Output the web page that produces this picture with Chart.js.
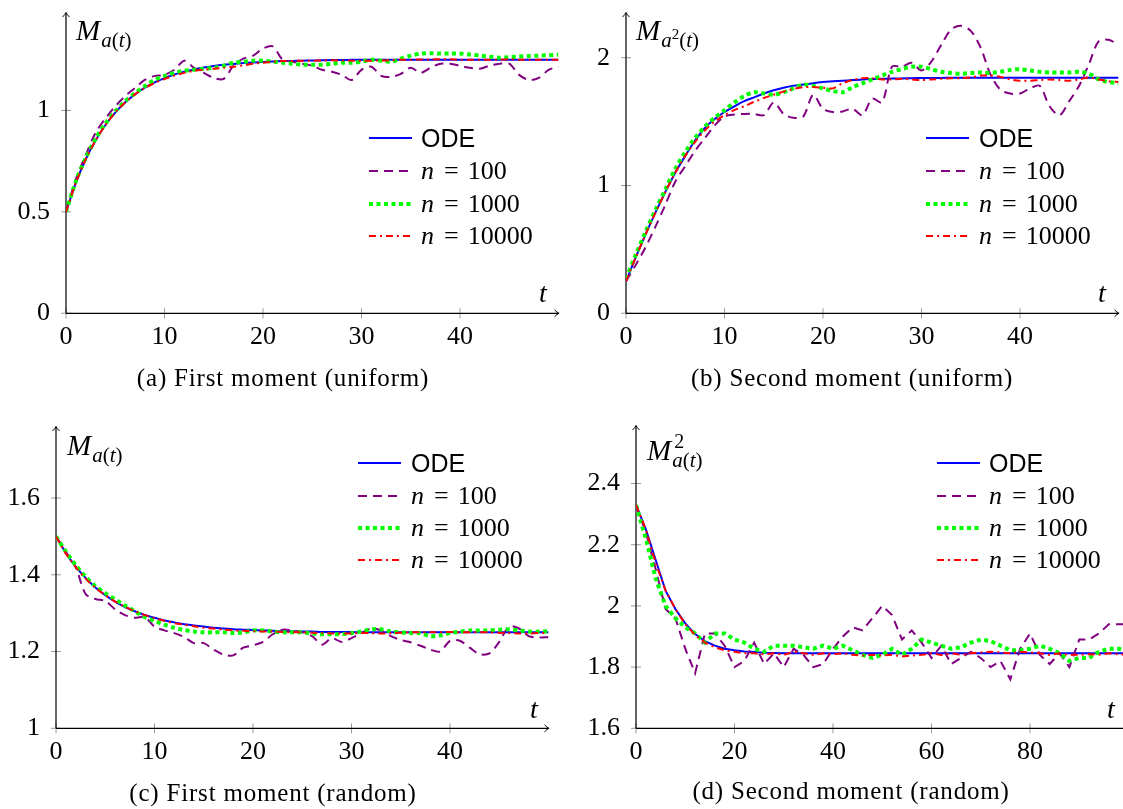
<!DOCTYPE html>
<html>
<head>
<meta charset="utf-8">
<title>Moments: ODE vs simulation</title>
<script src="https://cdn.jsdelivr.net/npm/chart.js@4.4.1/dist/chart.umd.min.js"></script>
<style>
  html, body { margin:0; padding:0; background:#fff; }
  body { position:relative; width:1123px; height:809px; overflow:hidden; }
  canvas { position:absolute; left:0; top:0; }
  .t { position:absolute; white-space:nowrap; color:#000; font-family:"Liberation Serif","DejaVu Serif",serif; }
  .t i { font-style:italic; }
  .sans { font-family:"Liberation Sans","DejaVu Sans",sans-serif; }
  .sb { font-size:21px; line-height:1; position:relative; top:7.5px; margin-left:1px; }
  .sp { font-size:15px; line-height:1; position:relative; top:-8px; }
  .eq { margin:0 9px 0 10px; }
  .cap { letter-spacing:0.8px; }
  svg.leg { position:absolute; overflow:visible; }
</style>
</head>
<body>
<canvas id="cA"></canvas>
<canvas id="cB"></canvas>
<canvas id="cC"></canvas>
<canvas id="cD"></canvas>
<script>
// ---------------- data ----------------
const seriesLabels = ['ODE', 'n = 100', 'n = 1000', 'n = 10000'];

const tA = [0,1,2,3,4,5,6,7,8,9,10,11,12,13,14,15,16,17,18,19,20,21,22,23,24,25,26,27,28,29,30,31,32,33,34,35,36,37,38,39,40,41,42,43,44,45,46,47,48,49,50];
const tD = [0,2,4,6,8,10,12,14,16,18,20,22,24,26,28,30,32,34,36,38,40,42,44,46,48,50,52,54,56,58,60,62,64,66,68,70,72,74,76,78,80,82,84,86,88,90,92,94,96,98,100];

// (a) first moment, uniform
const aODE = [0.5,0.643,0.759,0.852,0.928,0.989,1.039,1.079,1.112,1.138,1.159,
  1.177,1.191,1.202,1.211,1.219,1.225,1.229,1.233,1.236,1.239,
  1.241,1.243,1.244,1.245,1.246,1.247,1.248,1.248,1.249,1.249,
  1.25,1.25,1.25,1.25,1.25,1.25,1.25,1.25,1.25,1.25,
  1.25,1.25,1.25,1.25,1.25,1.25,1.25,1.25,1.25,1.25];
const aN100 = [0.5,0.66,0.78,0.89,0.96,1.02,1.07,1.11,1.15,1.17,1.175,
  1.2,1.245,1.21,1.185,1.16,1.155,1.22,1.255,1.27,1.305,
  1.315,1.25,1.24,1.23,1.22,1.2,1.19,1.175,1.15,1.2,
  1.215,1.17,1.165,1.18,1.21,1.185,1.21,1.23,1.23,1.22,
  1.21,1.205,1.22,1.23,1.23,1.175,1.15,1.16,1.2,1.215];
const aN1000 = [0.5,0.65,0.765,0.86,0.935,0.995,1.045,1.085,1.12,1.15,1.17,
  1.185,1.195,1.2,1.205,1.21,1.22,1.235,1.24,1.245,1.245,
  1.24,1.235,1.23,1.225,1.225,1.225,1.23,1.235,1.235,1.24,
  1.25,1.245,1.24,1.255,1.27,1.28,1.282,1.28,1.28,1.28,
  1.275,1.27,1.265,1.26,1.262,1.265,1.268,1.27,1.272,1.275];
const aN10000 = [0.5,0.643,0.759,0.852,0.928,0.989,1.039,1.079,1.11,1.135,1.155,
  1.172,1.185,1.195,1.2,1.205,1.21,1.215,1.222,1.23,1.235,
  1.24,1.243,1.244,1.245,1.245,1.246,1.247,1.246,1.245,1.245,
  1.245,1.246,1.247,1.25,1.25,1.251,1.251,1.252,1.252,1.25,
  1.25,1.249,1.25,1.25,1.252,1.25,1.25,1.25,1.25,1.25];

// (b) second moment, uniform
const bODE = [0.25,0.44,0.62,0.79,0.95,1.1,1.23,1.35,1.45,1.52,1.575,
  1.62,1.66,1.69,1.72,1.745,1.765,1.78,1.79,1.8,1.81,
  1.815,1.82,1.825,1.83,1.833,1.835,1.837,1.838,1.84,1.841,
  1.842,1.842,1.843,1.843,1.843,1.844,1.844,1.844,1.844,1.844,
  1.844,1.844,1.844,1.844,1.844,1.844,1.844,1.844,1.844,1.844];
const bN100 = [0.25,0.38,0.52,0.68,0.85,1.03,1.15,1.27,1.37,1.47,1.54,
  1.555,1.56,1.56,1.55,1.65,1.56,1.53,1.54,1.71,1.6,
  1.575,1.58,1.6,1.55,1.68,1.65,1.93,1.93,1.96,1.9,
  1.97,2.1,2.22,2.25,2.21,2.08,1.87,1.75,1.72,1.72,
  1.76,1.78,1.62,1.55,1.66,1.78,1.95,2.13,2.14,2.1];
const bN1000 = [0.27,0.46,0.64,0.81,0.97,1.13,1.26,1.37,1.46,1.53,1.59,
  1.65,1.7,1.73,1.72,1.71,1.73,1.76,1.79,1.78,1.76,
  1.74,1.73,1.77,1.8,1.83,1.86,1.89,1.91,1.93,1.93,
  1.91,1.89,1.88,1.875,1.88,1.885,1.88,1.89,1.905,1.91,
  1.9,1.89,1.885,1.885,1.885,1.89,1.875,1.83,1.81,1.8];
const bN10000 = [0.25,0.44,0.62,0.79,0.95,1.1,1.23,1.34,1.43,1.5,1.55,
  1.59,1.62,1.655,1.685,1.71,1.735,1.755,1.77,1.77,1.765,
  1.76,1.8,1.825,1.84,1.84,1.83,1.83,1.835,1.83,1.825,
  1.83,1.835,1.84,1.84,1.845,1.86,1.86,1.85,1.83,1.82,
  1.82,1.825,1.83,1.825,1.82,1.83,1.845,1.83,1.815,1.81];

// (c) first moment, random
const cODE = [1.5,1.457,1.421,1.392,1.367,1.347,1.33,1.316,1.305,1.295,1.288,
  1.281,1.276,1.271,1.268,1.265,1.262,1.26,1.258,1.257,1.256,
  1.255,1.254,1.253,1.253,1.252,1.252,1.251,1.251,1.251,1.251,
  1.25,1.25,1.25,1.25,1.25,1.25,1.25,1.25,1.25,1.25,
  1.25,1.25,1.25,1.25,1.25,1.25,1.25,1.25,1.25,1.25];
const cN100 = [1.5,1.46,1.42,1.35,1.337,1.332,1.31,1.295,1.288,1.29,1.265,
  1.255,1.248,1.238,1.222,1.222,1.205,1.192,1.19,1.21,1.216,
  1.225,1.245,1.257,1.255,1.25,1.24,1.218,1.235,1.225,1.235,
  1.248,1.26,1.255,1.24,1.23,1.224,1.215,1.205,1.2,1.228,
  1.228,1.21,1.193,1.195,1.225,1.265,1.26,1.24,1.237,1.237];
const cN1000 = [1.5,1.46,1.425,1.395,1.37,1.352,1.336,1.32,1.305,1.29,1.28,
  1.27,1.262,1.256,1.252,1.25,1.25,1.25,1.248,1.25,1.255,
  1.255,1.252,1.25,1.25,1.25,1.247,1.245,1.245,1.245,1.248,
  1.252,1.258,1.258,1.252,1.25,1.248,1.248,1.24,1.242,1.248,
  1.252,1.255,1.255,1.255,1.257,1.258,1.255,1.252,1.252,1.253];
const cN10000 = [1.5,1.455,1.42,1.39,1.366,1.347,1.33,1.317,1.305,1.295,1.287,
  1.28,1.274,1.27,1.266,1.262,1.26,1.257,1.255,1.254,1.253,
  1.252,1.252,1.251,1.25,1.25,1.249,1.248,1.247,1.247,1.247,
  1.248,1.248,1.247,1.248,1.249,1.25,1.25,1.25,1.25,1.251,
  1.25,1.25,1.25,1.25,1.249,1.248,1.247,1.247,1.248,1.248];

// (d) second moment, random (t step 2)
const dODE = [2.33,2.25,2.15,2.05,1.99,1.943,1.908,1.885,1.87,1.86,1.855,
  1.851,1.849,1.847,1.846,1.845,1.845,1.845,1.845,1.845,1.845,
  1.845,1.845,1.845,1.845,1.845,1.845,1.845,1.845,1.845,1.845,
  1.845,1.845,1.845,1.845,1.845,1.845,1.845,1.845,1.845,1.845,
  1.845,1.845,1.845,1.845,1.845,1.845,1.845,1.845,1.845,1.845];
const dN100 = [2.33,2.24,2.12,1.99,1.96,1.86,1.78,1.91,1.91,1.87,1.8,
  1.82,1.88,1.81,1.845,1.8,1.86,1.84,1.8,1.81,1.86,
  1.9,1.93,1.92,1.96,2.0,1.97,1.89,1.92,1.88,1.83,
  1.87,1.81,1.83,1.85,1.83,1.8,1.82,1.76,1.86,1.91,
  1.84,1.81,1.845,1.8,1.89,1.89,1.91,1.94,1.94,1.94];
const dN1000 = [2.33,2.22,2.09,2.0,1.96,1.93,1.91,1.88,1.91,1.91,1.89,
  1.88,1.86,1.85,1.87,1.87,1.87,1.865,1.86,1.87,1.86,
  1.87,1.855,1.84,1.83,1.84,1.86,1.84,1.86,1.89,1.88,
  1.87,1.86,1.865,1.88,1.89,1.885,1.87,1.855,1.855,1.86,
  1.87,1.86,1.845,1.82,1.83,1.83,1.85,1.86,1.86,1.85];
const dN10000 = [2.33,2.25,2.14,2.05,1.99,1.94,1.905,1.88,1.865,1.855,1.85,
  1.845,1.845,1.842,1.845,1.84,1.85,1.845,1.84,1.845,1.842,
  1.845,1.84,1.838,1.84,1.838,1.84,1.835,1.838,1.84,1.845,
  1.84,1.845,1.84,1.845,1.848,1.85,1.848,1.845,1.85,1.848,
  1.845,1.84,1.845,1.84,1.84,1.842,1.84,1.845,1.842,1.84];

// tick values
const ticksAx = [0,10,20,30,40];
const ticksAy = [0,0.5,1];
const ticksBx = [0,10,20,30,40];
const ticksBy = [0,1,2];
const ticksCx = [0,10,20,30,40];
const ticksCy = [1,1.2,1.4,1.6];
const ticksDx = [0,20,40,60,80];
const ticksDy = [1.6,1.8,2,2.2,2.4];

// ---------------- styles / layout ----------------
const STY = [
  { color:'#0000ff', width:2, dash:[] },
  { color:'#800080', width:2, dash:[9,6] },
  { color:'#00ff00', width:4, dash:[4,3.5] },
  { color:'#ff0000', width:2, dash:[7,4,2,4] }
];
const CW = 1140, CH = 809, YW = 60, XH = 50;
const SERIF = '"Liberation Serif", "DejaVu Serif", serif';

const PANELS = [
  { id:'cA', t:tA, ys:[aODE,aN100,aN1000,aN10000], xr:[0,50],  yr:[0,1.48],    xt:ticksAx, yt:ticksAy, box:[66,558.5,13,313.3], tension:0.3 },
  { id:'cB', t:tA, ys:[bODE,bN100,bN1000,bN10000], xr:[0,50],  yr:[0,2.35],    xt:ticksBx, yt:ticksBy, box:[626,1118.5,13,313.3], tension:0.3 },
  { id:'cC', t:tA, ys:[cODE,cN100,cN1000,cN10000], xr:[0,50],  yr:[1,1.785],   xt:ticksCx, yt:ticksCy, box:[56,548.5,427,728.3], tension:0.3 },
  { id:'cD', t:tD, ys:[dODE,dN100,dN1000,dN10000], xr:[0,100], yr:[1.6,2.588], xt:ticksDx, yt:ticksDy, box:[636,1128.5,426,728.3], tension:0 }
];

const axesPlugin = {
  id:'pgfAxes',
  beforeDatasetsDraw(chart) {
    const { ctx, chartArea:a, scales:{ x, y } } = chart;
    ctx.save();
    ctx.strokeStyle = '#9a9a9a';
    ctx.lineWidth = 1;
    ctx.beginPath();
    x.ticks.forEach(tk => {
      const px = x.getPixelForValue(tk.value);
      ctx.moveTo(px, a.bottom - 5); ctx.lineTo(px, a.bottom + 5);
    });
    y.ticks.forEach(tk => {
      const py = y.getPixelForValue(tk.value);
      ctx.moveTo(a.left - 5, py); ctx.lineTo(a.left + 5, py);
    });
    ctx.stroke();
    ctx.strokeStyle = '#000';
    ctx.lineWidth = 1.2;
    ctx.beginPath();
    ctx.moveTo(a.left, a.bottom); ctx.lineTo(a.right, a.bottom);
    ctx.moveTo(a.left, a.bottom); ctx.lineTo(a.left, a.top);
    ctx.stroke();
    ctx.lineWidth = 1;
    ctx.beginPath();
    ctx.moveTo(a.right - 4, a.bottom - 3.5);
    ctx.quadraticCurveTo(a.right - 1.5, a.bottom - 0.8, a.right + 0.6, a.bottom);
    ctx.quadraticCurveTo(a.right - 1.5, a.bottom + 0.8, a.right - 4, a.bottom + 3.5);
    ctx.moveTo(a.left - 3.5, a.top + 4);
    ctx.quadraticCurveTo(a.left - 0.8, a.top + 1.5, a.left, a.top - 0.6);
    ctx.quadraticCurveTo(a.left + 0.8, a.top + 1.5, a.left + 3.5, a.top + 4);
    ctx.stroke();
    ctx.restore();
  }
};

function build(p) {
  const cv = document.getElementById(p.id);
  cv.width = CW; cv.height = CH;
  cv.style.width = CW + 'px'; cv.style.height = CH + 'px';
  const [L, R, T, B] = p.box;
  const tickFont = { family: SERIF, size: 26 };
  return new Chart(cv, {
    type: 'line',
    data: {
      datasets: p.ys.map((vals, i) => ({
        label: seriesLabels[i],
        data: p.t.map((t, j) => ({ x: t, y: vals[j] })),
        borderColor: STY[i].color,
        backgroundColor: STY[i].color,
        borderWidth: STY[i].width,
        borderDash: STY[i].dash,
        pointRadius: 0,
        pointHoverRadius: 0,
        fill: false,
        tension: p.tension,
        order: 3 - i
      }))
    },
    options: {
      responsive: false,
      animation: false,
      events: [],
      layout: { padding: { left: L - YW, right: CW - R, top: T, bottom: CH - B - XH } },
      plugins: { legend: { display: false }, tooltip: { enabled: false }, title: { display: false } },
      scales: {
        x: {
          type: 'linear', position: 'bottom', min: p.xr[0], max: p.xr[1],
          afterBuildTicks: s => { s.ticks = p.xt.map(v => ({ value: v })); },
          afterFit: s => { s.height = XH; s.paddingLeft = 0; s.paddingRight = 0; s.paddingTop = 0; s.paddingBottom = 0; },
          grid: { display: false, drawTicks: false },
          border: { display: false },
          ticks: { color: '#000', font: tickFont, padding: 8, maxRotation: 0, autoSkip: false, callback: v => String(v) }
        },
        y: {
          type: 'linear', position: 'left', min: p.yr[0], max: p.yr[1],
          afterBuildTicks: s => { s.ticks = p.yt.map(v => ({ value: v })); },
          afterFit: s => { s.width = YW; s.paddingLeft = 0; s.paddingRight = 0; s.paddingTop = 0; s.paddingBottom = 0; },
          grid: { display: false, drawTicks: false },
          border: { display: false },
          ticks: { color: '#000', font: tickFont, padding: 16, autoSkip: false, callback: v => String(v) }
        }
      }
    },
    plugins: [axesPlugin]
  });
}

// ---------------- text helpers ----------------
function put(html, x, baseline, size, opts) {
  opts = opts || {};
  const d = document.createElement('div');
  d.className = 't' + (opts.sans ? ' sans' : '') + (opts.cls ? ' ' + opts.cls : '');
  d.style.fontSize = size + 'px';
  d.style.lineHeight = size + 'px';
  d.innerHTML = html;
  const k = opts.sans ? 0.8465 : 0.837;
  d.style.top = (baseline - k * size) + 'px';
  if (opts.center) {
    d.style.left = (x - 300) + 'px'; d.style.width = '600px'; d.style.textAlign = 'center';
  } else {
    d.style.left = x + 'px';
  }
  document.body.appendChild(d);
  return d;
}

const NS = 'http://www.w3.org/2000/svg';
function legend(chart, lineX, rows, textX) {
  chart.data.datasets.forEach((ds, i) => {
    const svg = document.createElementNS(NS, 'svg');
    svg.setAttribute('class', 'leg');
    svg.setAttribute('width', '44'); svg.setAttribute('height', '10');
    svg.style.left = lineX + 'px'; svg.style.top = (rows[i] - 5) + 'px';
    const ln = document.createElementNS(NS, 'line');
    ln.setAttribute('x1', '0'); ln.setAttribute('y1', '5');
    ln.setAttribute('x2', '43'); ln.setAttribute('y2', '5');
    ln.setAttribute('stroke', ds.borderColor);
    ln.setAttribute('stroke-width', ds.borderWidth);
    if (ds.borderDash.length) ln.setAttribute('stroke-dasharray', ds.borderDash.join(' '));
    svg.appendChild(ln);
    document.body.appendChild(svg);
    const lab = ds.label;
    if (lab === 'ODE') {
      put(lab, textX, rows[i] + 9, 25, { sans: true });
    } else {
      const parts = lab.split(' = ');
      put('<i>' + parts[0] + '</i><span class="eq">=</span>' + parts[1], textX, rows[i] + 9, 26);
    }
  });
}

// ---------------- render ----------------
const charts = PANELS.map(build);

legend(charts[0], 369, [138,171,204,236], 421);
legend(charts[1], 926, [138,171,204,236], 979);
legend(charts[2], 358, [463,496,528,560], 411);
legend(charts[3], 937, [463,496,528,560], 989);

// axis labels
put('<i>M</i><span class="sb"><i>a</i>(<i>t</i>)</span>', 76, 40, 29);
put('<i>M</i><span class="sb"><i>a</i><span class="sp">2</span>(<i>t</i>)</span>', 636, 40, 29);
put('<i>M</i><span class="sb"><i>a</i>(<i>t</i>)</span>', 67, 455, 29);
put('<i>M</i><span style="position:relative;display:inline-block;width:40px;height:1px;">' +
    '<span style="position:absolute;left:3px;top:-28px;font-size:20px;line-height:20px;">2</span>' +
    '<span style="position:absolute;left:1px;top:-9px;font-size:21px;line-height:21px;"><i>a</i>(<i>t</i>)</span></span>', 647, 460.5, 29);

put('<i>t</i>', 539, 302, 28);
put('<i>t</i>', 1098, 302, 28);
put('<i>t</i>', 530, 718, 28);
put('<i>t</i>', 1107, 718, 28);

// captions
put('(a) First moment (uniform)', 283, 386, 25, { center: true, cls: 'cap' });
put('(b) Second moment (uniform)', 852, 386, 25, { center: true, cls: 'cap' });
put('(c) First moment (random)', 273, 801, 25, { center: true, cls: 'cap' });
put('(d) Second moment (random)', 851, 799, 25, { center: true, cls: 'cap' });
</script>
</body>
</html>
